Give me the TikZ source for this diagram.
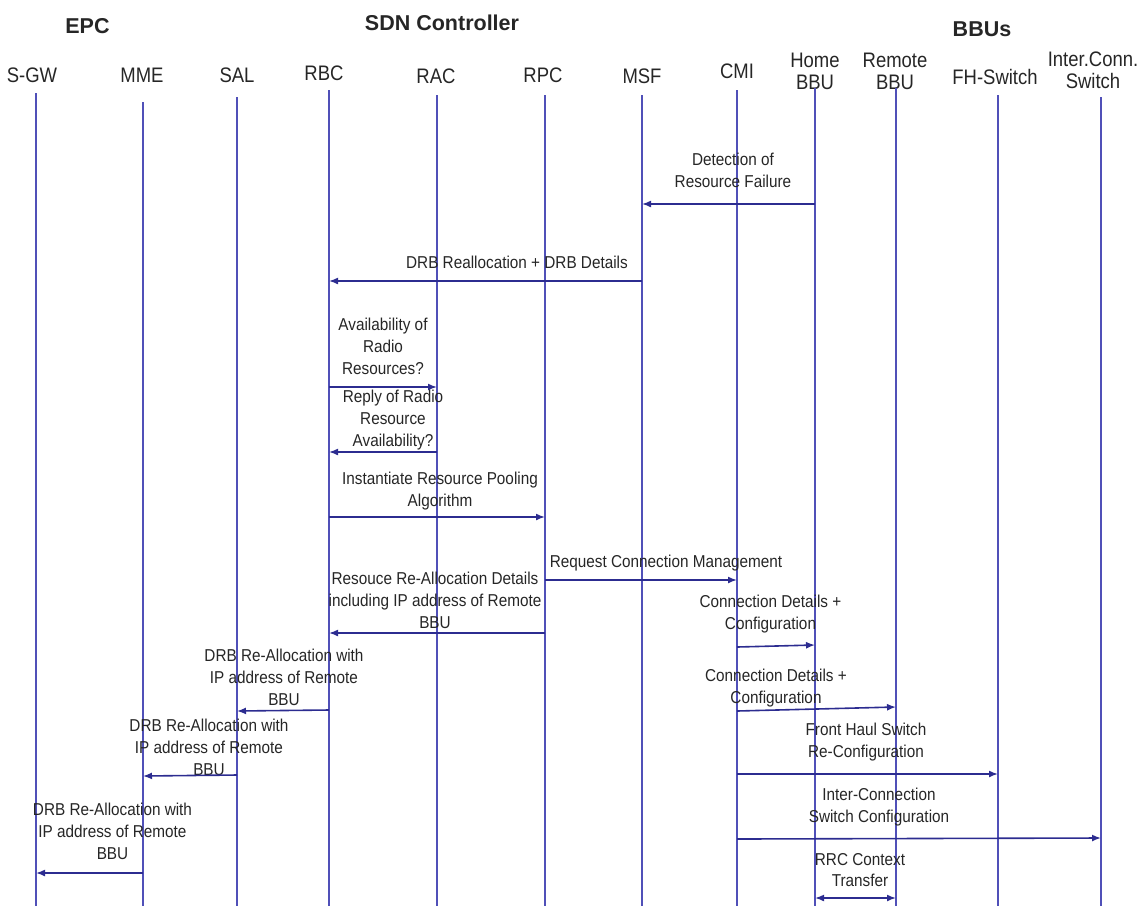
\documentclass[tikz,border=0pt]{standalone}
\usepackage{fontspec}
\setmainfont{Liberation Sans}
\newfontfamily\msgfont[FakeStretch=0.89]{Liberation Sans}
\newfontfamily\actfont[FakeStretch=0.88]{Liberation Sans}
\usetikzlibrary{arrows.meta}
\definecolor{life}{HTML}{5050B8}
\definecolor{arr}{HTML}{2C2C90}
\definecolor{txt}{HTML}{262626}
\begin{document}
\begin{tikzpicture}[x=1pt,y=-1pt,
  lifeline/.style={draw=life,line width=1.6pt},
  msg/.style={draw=arr,line width=1.6pt,-{Latex[length=9pt,width=7pt]}},
  bothmsg/.style={draw=arr,line width=1.6pt,{Latex[length=9pt,width=7pt]}-{Latex[length=9pt,width=7pt]}},
  lab/.style={text=txt,font=\msgfont\fontsize{17.2}{21.7}\selectfont,align=center,inner sep=0pt,anchor=north},
  actor/.style={text=txt,font=\actfont\fontsize{21}{22}\selectfont,align=center,inner sep=0pt,anchor=north},
  group/.style={text=txt,font=\bfseries\fontsize{21.5}{24}\selectfont,inner sep=0pt,anchor=north}]
\useasboundingbox (0,0) rectangle (1148,906);

% group headers
\node[group] (g-epc) at (87.5,18) {EPC};
\node[group] (g-sdn) at (442,15) {SDN Controller};
\node[group] (g-bbu) at (982,22) {BBUs};

% actor names
\node[actor] (a-sgw) at (32,68) {S-GW};
\node[actor] (a-mme) at (142,68) {MME};
\node[actor] (a-sal) at (237,68) {SAL};
\node[actor] (a-rbc) at (324,66) {RBC};
\node[actor] (a-rac) at (436,69) {RAC};
\node[actor] (a-rpc) at (543,68) {RPC};
\node[actor] (a-msf) at (642,69) {MSF};
\node[actor] (a-cmi) at (737,64) {CMI};
\node[actor] (a-hbbu) at (815,53) {Home\\BBU};
\node[actor] (a-rbbu) at (895,53) {Remote\\BBU};
\node[actor] (a-fhs) at (995,69) {FH-Switch};
\node[actor] (a-ics) at (1093,52) {Inter.Conn.\\Switch};

% lifeline tops
\coordinate (sgw) at (36,93);
\coordinate (mme) at (143,102);
\coordinate (sal) at (237,97);
\coordinate (rbc) at (329,90);
\coordinate (rac) at (437,95);
\coordinate (rpc) at (545,95);
\coordinate (msf) at (642,95);
\coordinate (cmi) at (737,90);
\coordinate (hbbu) at (815,88);
\coordinate (rbbu) at (896,88);
\coordinate (fhs) at (998,95);
\coordinate (ics) at (1101,97);

\foreach \l in {sgw,mme,sal,rbc,rac,rpc,msf,cmi,hbbu,rbbu,fhs,ics}
  \draw[lifeline] (\l) -- (\l |- 0,906);

% messages
\node[lab] (m1) at (733,153) {Detection of\\Resource Failure};
\draw[msg] (hbbu |- 0,204) -- (msf |- 0,204);

\node[lab] (m2) at (517,256) {DRB Reallocation + DRB Details};
\draw[msg] (msf |- 0,281) -- (rbc |- 0,281);

\node[lab] (m3) at (383,318) {Availability of\\Radio\\Resources?};
\draw[msg] (rbc |- 0,387) -- (rac |- 0,387);

\node[lab] (m4) at (393,390) {Reply of Radio\\Resource\\Availability?};
\draw[msg] (rac |- 0,452) -- (rbc |- 0,452);

\node[lab] (m5) at (440,472) {Instantiate Resource Pooling\\Algorithm};
\draw[msg] (rbc |- 0,517) -- (rpc |- 0,517);

\node[lab] (m6) at (666,555) {Request Connection Management};
\draw[msg] (rpc |- 0,580) -- (cmi |- 0,580);

\node[lab] (m7) at (435,572) {Resouce Re-Allocation Details\\including IP address of Remote\\BBU};
\draw[msg] (rpc |- 0,633) -- (rbc |- 0,633);

\node[lab] (m8) at (770.5,595) {Connection Details +\\Configuration};
\draw[msg] (cmi |- 0,647) -- (hbbu |- 0,645);

\node[lab] (m9) at (284,649) {DRB Re-Allocation with\\IP address of Remote\\BBU};
\draw[msg] (rbc |- 0,710) -- (sal |- 0,711);

\node[lab] (m10) at (776,669) {Connection Details +\\Configuration};
\draw[msg] (cmi |- 0,711) -- (rbbu |- 0,707);

\node[lab] (m11) at (209,719) {DRB Re-Allocation with\\IP address of Remote\\BBU};
\draw[msg] (sal |- 0,775) -- (mme |- 0,776);

\node[lab] (m12) at (866,723) {Front Haul Switch\\Re-Configuration};
\draw[msg] (cmi |- 0,774) -- (fhs |- 0,774);

\node[lab] (m13) at (112.5,803) {DRB Re-Allocation with\\IP address of Remote\\BBU};
\draw[msg] (mme |- 0,873) -- (sgw |- 0,873);

\node[lab] (m14) at (879,788) {Inter-Connection\\Switch Configuration};
\draw[msg] (cmi |- 0,839) -- (ics |- 0,838);

\node[lab] (m15) at (860,853) {RRC Context\\Transfer};
\draw[bothmsg] (hbbu |- 0,898) -- (rbbu |- 0,898);
\end{tikzpicture}
\end{document}
